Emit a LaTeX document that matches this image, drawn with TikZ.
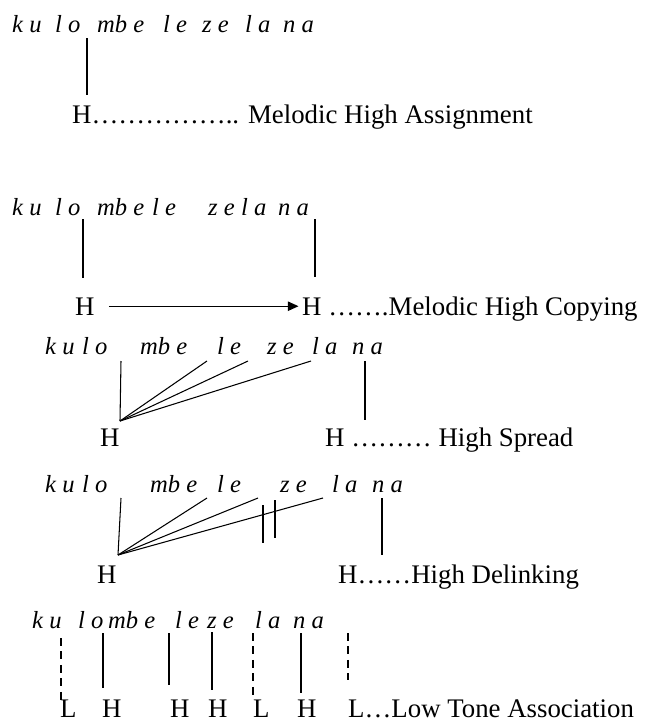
\documentclass[tikz,border=0pt]{standalone}
\usepackage{fontspec}
\setmainfont{Liberation Serif}
\usetikzlibrary{arrows.meta, positioning}

\tikzset{
  syl/.style={font=\fontsize{21}{24}\selectfont\itshape, inner sep=0pt, anchor=base west},
  tone/.style={font=\fontsize{22.9}{26}\selectfont, inner sep=0pt, anchor=base west},
  assoc/.style={line width=0.9pt},
  lowassoc/.style={line width=1.5pt, dash pattern=on 6.5pt off 5pt},
  copyarr/.style={line width=0.9pt, -{Triangle[length=9pt,width=8pt]}},
}

\begin{document}
\begin{tikzpicture}[x=0.03cm, y=-0.03cm]
  \useasboundingbox (0,0) rectangle (652,724);

  % melodic high assignment
  \foreach \s/\x [count=\i] in {k u/12, l o/55, mb e/97, l e/163, z e/202, l a/245, n a/283}
    \node[syl] (a\i) at (\x,32) {\s};
  \node[tone] (ha) at (72,123) {H…………….. Melodic High Assignment};
  \coordinate (ta1) at (87,38);
  \coordinate (ta2) at (87,95);
  \draw[assoc] (ta1) -- (ta2);

  % melodic high copying
  \foreach \s/\x [count=\i] in {k u/12, l o/55, mb e/97, l e/152, z e l a/208, n a/278}
    \node[syl] (b\i) at (\x,215) {\s};
  \node[tone] (hb1) at (75,315) {H};
  \node[tone] (hb2) at (302,315) {H …….Melodic High Copying};
  \coordinate (tb1) at (83,219);  \coordinate (bb1) at (83,278);
  \coordinate (tb2) at (315,219); \coordinate (bb2) at (315,277);
  \draw[assoc] (tb1) -- (bb1);
  \draw[assoc] (tb2) -- (bb2);
  \draw[copyarr, shorten <=12pt, shorten >=3pt] (hb1.east) -- (hb1.east -| hb2.west);

  % high spread
  \foreach \s/\x [count=\i] in {k u/45, l o/82, mb e/140, l e/217, z e/267, l a/312, n a/352}
    \node[syl] (c\i) at (\x,354) {\s};
  \node[tone] (hc1) at (100,446) {H};
  \node[tone] (hc2) at (325,446) {H ……… High Spread};
  \coordinate (vc) at (120,421);
  \foreach \x [count=\i] in {121, 207, 248, 311} {
    \coordinate (tc\i) at (\x,361);
    \draw[assoc] (vc) -- (tc\i);
  }
  \coordinate (tc5) at (365,361); \coordinate (bc5) at (365,420);
  \draw[assoc] (tc5) -- (bc5);

  % high delinking
  \foreach \s/\x [count=\i] in {k u/45, l o/82, mb e/150, l e/217, z e/280, l a/332, n a/372}
    \node[syl] (d\i) at (\x,492) {\s};
  \node[tone] (hd1) at (97,583) {H};
  \node[tone] (hd2) at (338,583) {H……High Delinking};
  \coordinate (vd) at (118,555);
  \foreach \x [count=\i] in {121, 207, 258, 323} {
    \coordinate (td\i) at (\x,498);
    \draw[assoc] (vd) -- (td\i);
  }
  \coordinate (td5) at (382,498); \coordinate (bd5) at (382,555);
  \draw[assoc] (td5) -- (bd5);
  % delinking bars
  \coordinate (k1a) at (263,505); \coordinate (k1b) at (263,543);
  \coordinate (k2a) at (275,500); \coordinate (k2b) at (275,538);
  \draw[assoc] (k1a) -- (k1b);
  \draw[assoc] (k2a) -- (k2b);

  % low tone association
  \foreach \s/\x [count=\i] in {k u/32, l o/78, mb e/108, l e/175, z e/207, l a/255, n a/293}
    \node[syl] (e\i) at (\x,628) {\s};
  \foreach \t/\x [count=\i] in {L/60, H/102, H/170, H/208, L/253, H/297}
    \node[tone] (te\i) at (\x,717) {\t};
  \node[tone] (he) at (348,717) {L…Low Tone Association};
  \foreach \x/\a/\b [count=\i] in {103/633/688, 169/633/685, 212/632/690, 301/633/693} {
    \coordinate (pe\i) at (\x,\a); \coordinate (qe\i) at (\x,\b);
    \draw[assoc] (pe\i) -- (qe\i);
  }
  \foreach \x/\a/\b [count=\i] in {61/638/702, 253/633/698, 348/633/680} {
    \coordinate (pl\i) at (\x,\a); \coordinate (ql\i) at (\x,\b);
    \draw[lowassoc] (pl\i) -- (ql\i);
  }
\end{tikzpicture}
\end{document}
